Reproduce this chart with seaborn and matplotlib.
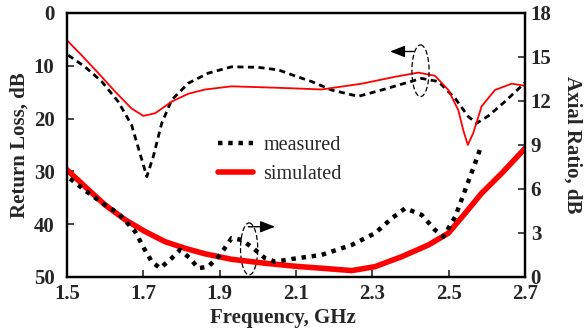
import matplotlib
matplotlib.use("Agg")
import matplotlib.pyplot as plt
import seaborn as sns
import pandas as pd
from matplotlib.patches import Ellipse

# Return loss (left axis, dB)
rl_meas_f = [1.503, 1.547, 1.591, 1.634, 1.669, 1.691, 1.709, 1.726, 1.748, 1.774, 1.818,
             1.870, 1.931, 2.001, 2.054, 2.100, 2.141, 2.193, 2.263, 2.324, 2.386, 2.429,
             2.473, 2.517, 2.551, 2.573, 2.604, 2.647, 2.700]
rl_meas = [8.0, 10.2, 13.0, 16.8, 21.2, 26.6, 31.0, 27.2, 20.9, 16.5, 13.3,
           11.4, 10.2, 10.3, 10.8, 12.0, 13.0, 14.6, 15.8, 14.6, 13.3, 12.4,
           13.0, 16.2, 19.6, 20.9, 19.5, 16.8, 13.2]

rl_sim_f = [1.500, 1.538, 1.582, 1.626, 1.669, 1.700, 1.731, 1.774, 1.818, 1.862, 1.931,
            2.019, 2.100, 2.167, 2.272, 2.359, 2.420, 2.464, 2.499, 2.525, 2.538, 2.550,
            2.564, 2.586, 2.621, 2.665, 2.700]
rl_sim = [5.2, 8.0, 11.4, 14.9, 18.1, 19.5, 19.0, 16.8, 15.3, 14.5, 13.9,
          14.1, 14.3, 14.5, 13.4, 12.1, 11.3, 11.9, 14.6, 18.4, 22.2, 25.0,
          22.8, 17.7, 14.6, 13.4, 13.8]

# Axial ratio (right axis, dB)
ar_meas_f = [1.508, 1.547, 1.600, 1.634, 1.678, 1.704, 1.722, 1.744, 1.774, 1.796, 1.822,
             1.844, 1.870, 1.901, 1.931, 1.958, 1.988, 2.019, 2.045, 2.097, 2.167, 2.246,
             2.307, 2.351, 2.386, 2.429, 2.464, 2.486, 2.517, 2.543, 2.569, 2.586]
ar_meas = [6.7, 5.9, 4.9, 4.34, 3.1, 1.84, 1.04, 0.59, 1.27, 1.84, 1.27,
           0.59, 0.70, 1.5, 2.64, 2.52, 1.95, 1.27, 1.04, 1.25, 1.5, 2.18,
           2.98, 4.0, 4.68, 4.23, 3.2, 2.75, 4.1, 5.93, 7.75, 9.0]

ar_sim_f = [1.500, 1.547, 1.600, 1.652, 1.704, 1.757, 1.809, 1.862, 1.931, 2.019, 2.100,
            2.167, 2.246, 2.307, 2.377, 2.447, 2.499, 2.543, 2.586, 2.639, 2.700]
ar_sim = [7.3, 6.16, 4.9, 3.9, 3.1, 2.4, 1.95, 1.57, 1.2, 0.93, 0.72,
          0.59, 0.43, 0.70, 1.38, 2.18, 2.98, 4.34, 5.7, 7.07, 8.77]

sns.set_style("ticks")
plt.rcParams['font.family'] = ['Liberation Serif', 'DejaVu Serif']
plt.rcParams['axes.linewidth'] = 1.6

fig = plt.figure(figsize=(5.88, 3.32), dpi=100)
ax = fig.add_axes([0.114, 0.166, 0.779, 0.795])
ax2 = ax.twinx()

df_rlm = pd.DataFrame({"f": rl_meas_f, "v": rl_meas})
df_rls = pd.DataFrame({"f": rl_sim_f, "v": rl_sim})
df_arm = pd.DataFrame({"f": ar_meas_f, "v": ar_meas})
df_ars = pd.DataFrame({"f": ar_sim_f, "v": ar_sim})

sns.lineplot(data=df_rlm, x="f", y="v", ax=ax, color="black", lw=2.0,
             linestyle=(0, (2.2, 1.6)), sort=False)
sns.lineplot(data=df_rls, x="f", y="v", ax=ax, color="#ff0000", lw=1.3, sort=False)
sns.lineplot(data=df_ars, x="f", y="v", ax=ax2, color="#ff0000", lw=4.0,
             sort=False, label="simulated")
sns.lineplot(data=df_arm, x="f", y="v", ax=ax2, color="black", lw=3.2,
             linestyle=(0, (1, 1.3)), sort=False, label="measured")

ax.set_xlim(1.5, 2.7)
ax.set_ylim(50, 0)
ax2.set_ylim(0, 18)
ax.set_xticks([1.5, 1.7, 1.9, 2.1, 2.3, 2.5, 2.7])
ax.set_xticklabels(["1.5", "1.7", "1.9", "2.1", "2.3", "2.5", "2.7"])
ax.set_yticks([0, 10, 20, 30, 40, 50])
ax2.set_yticks([0, 3, 6, 9, 12, 15, 18])

for a in (ax, ax2):
    a.tick_params(direction="in", length=5, width=1.2, labelsize=15, pad=4)
    for lab in a.get_xticklabels() + a.get_yticklabels():
        lab.set_fontweight("bold")
    for s in a.spines.values():
        s.set_visible(True)
        s.set_linewidth(1.6)
        s.set_color("black")
ax.tick_params(axis="y", pad=9)
ax.tick_params(axis="x", pad=5)

ax.set_xlabel("Frequency, GHz", fontsize=15, fontweight="bold")
ax.xaxis.set_label_coords(0.472, -0.118)
ax.set_ylabel("Return Loss, dB", fontsize=15, fontweight="bold", labelpad=3)
ax2.set_ylabel("Axial Ratio, dB", fontsize=15, fontweight="bold", rotation=-90, labelpad=22)

# legend
h, l = ax2.get_legend_handles_labels()
order = [l.index("measured"), l.index("simulated")]
ax2.legend([h[i] for i in order], [l[i] for i in order], loc="upper left",
           bbox_to_anchor=(218 / 588, 1 - 136 / 332), bbox_transform=fig.transFigure,
           frameon=False, fontsize=14.5, borderpad=0, borderaxespad=0,
           handlelength=1.75, handletextpad=0.5, labelspacing=0.5)

# annotations (ellipses + arrows) in left-axis data coords
ax.add_patch(Ellipse((2.426, 10.95), 0.045, 9.8, fill=False, ls=(0, (4, 2)), lw=0.9,
                     color="black", zorder=5))
ax.annotate("", xy=(2.346, 7.3), xytext=(2.41, 7.3),
            arrowprops=dict(arrowstyle="-|>,head_length=0.9,head_width=0.35",
                            color="black", lw=1.0, shrinkA=0, shrinkB=0))
ax.add_patch(Ellipse((1.977, 44.7), 0.045, 9.85, fill=False, ls=(0, (4, 2)), lw=0.9,
                     color="black", zorder=5))
ax.annotate("", xy=(2.045, 40.5), xytext=(1.975, 40.5),
            arrowprops=dict(arrowstyle="-|>,head_length=0.9,head_width=0.35",
                            color="black", lw=1.0, shrinkA=0, shrinkB=0))

fig.savefig("out.png", dpi=100)
